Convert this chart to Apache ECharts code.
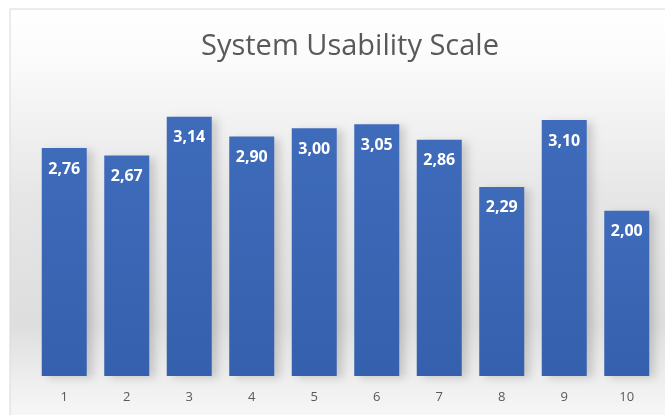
<!DOCTYPE html>
<html><head><meta charset="utf-8">
<script src="https://cdn.jsdelivr.net/npm/echarts@6/dist/echarts.min.js"></script>
<style>html,body{margin:0;padding:0;background:#fff}#c{width:665px;height:415px}</style>
</head><body><div id="c"></div>
<script>
var categories = ['1','2','3','4','5','6','7','8','9','10'];
var values = [2.76, 2.67, 3.14, 2.90, 3.00, 3.05, 2.86, 2.29, 3.10, 2.00];
var titleText = 'System Usability Scale';

var chart = echarts.init(document.getElementById('c'));
chart.setOption({
  animation: false,
  backgroundColor: '#ffffff',
  graphic: [{
    type: 'rect', z: -10, silent: true,
    shape: {x: 10, y: 9, width: 670, height: 420},
    style: {
      fill: new echarts.graphic.LinearGradient(0, 0, 0, 1, [
        {offset: 0, color: '#ffffff'},
        {offset: 0.12, color: '#fbfbfb'},
        {offset: 0.45, color: '#e6e6e6'},
        {offset: 0.75, color: '#dedede'},
        {offset: 0.9, color: '#f0f0f0'},
        {offset: 1, color: '#fafafa'}
      ]),
      stroke: '#d9d9d9', lineWidth: 1
    }
  }],
  title: {
    text: titleText, left: 345, top: 27, textAlign: 'center',
    textStyle: {fontFamily: 'Open Sans', fontWeight: 'normal', fontSize: 29, color: '#595959'}
  },
  grid: {left: 33, right: 7, top: 87, bottom: 39},
  xAxis: {
    type: 'category', data: categories,
    axisLine: {show: false}, axisTick: {show: false},
    axisLabel: {fontFamily: 'Open Sans', fontSize: 13, color: '#595959', margin: 15}
  },
  yAxis: {
    type: 'value', min: 0, max: 3.5, show: false,
    splitLine: {show: false}
  },
  series: [{
    type: 'bar', data: values, barWidth: 45,
    itemStyle: {
      color: new echarts.graphic.LinearGradient(0, 0, 0, 1, [
        {offset: 0, color: '#3f6bbb'},
        {offset: 1, color: '#3460ad'}
      ]),
      shadowColor: 'rgba(0,0,0,0.15)', shadowBlur: 8, shadowOffsetX: 6, shadowOffsetY: 2
    },
    label: {
      show: true, position: 'insideTop', distance: 13,
      color: '#ffffff', fontFamily: 'Open Sans', fontWeight: 'bold', fontSize: 16,
      formatter: function (p) { return p.value.toFixed(2).replace('.', ','); }
    }
  }]
});
</script></body></html>
